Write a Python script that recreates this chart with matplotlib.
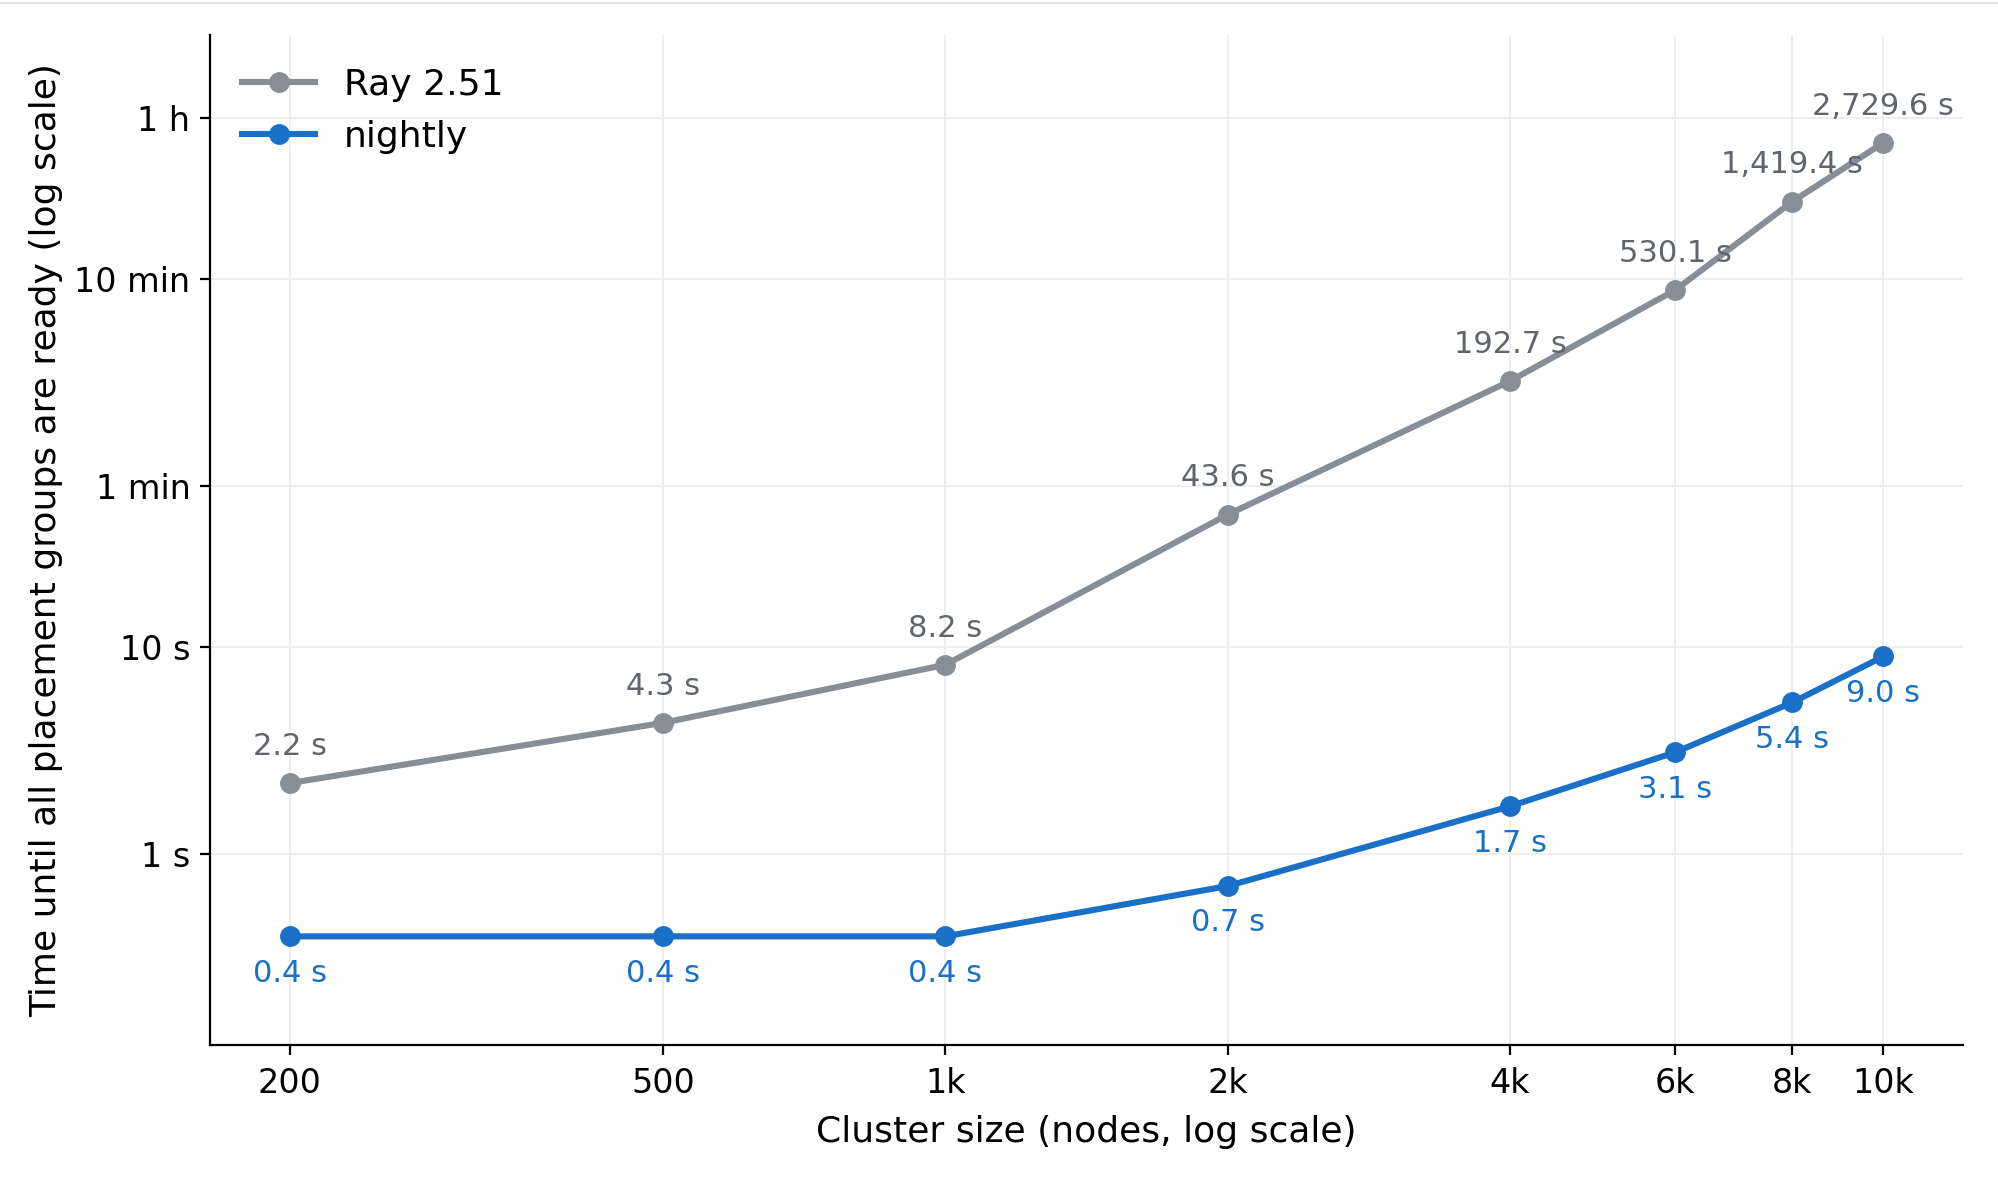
import matplotlib.pyplot as plt
from matplotlib.lines import Line2D
from matplotlib.ticker import FixedLocator, FixedFormatter, NullLocator

nodes = [200, 500, 1000, 2000, 4000, 6000, 8000, 10000]
ray_251 = [2.2, 4.3, 8.2, 43.6, 192.7, 530.1, 1419.4, 2729.6]
nightly = [0.4, 0.4, 0.4, 0.7, 1.7, 3.1, 5.4, 9.0]

x_ticks = [200, 500, 1000, 2000, 4000, 6000, 8000, 10000]
x_tick_labels = ["200", "500", "1k", "2k", "4k", "6k", "8k", "10k"]
y_ticks = [1, 10, 60, 600, 3600]
y_tick_labels = ["1 s", "10 s", "1 min", "10 min", "1 h"]

GRAY = "#878e95"
GRAY_TXT = "#5f656b"
BLUE = "#1a6fc6"


def plot_results():
    fig = plt.figure(figsize=(9.995, 5.915), dpi=200)
    ax = fig.add_axes([0.105, 0.117, 0.877, 0.853])

    ax.plot(nodes, ray_251, marker='o', color=GRAY, lw=2.2, ms=6.5, label='Ray 2.51')
    ax.plot(nodes, nightly, marker='o', color=BLUE, lw=2.2, ms=6.5, label='nightly')

    for x, v in zip(nodes, ray_251):
        ax.annotate(f"{v:,.1f} s", (x, v), xytext=(0, 8), textcoords='offset points',
                    ha='center', va='bottom', fontsize=11, color=GRAY_TXT)
    for x, v in zip(nodes, nightly):
        ax.annotate(f"{v:,.1f} s", (x, v), xytext=(0, -8), textcoords='offset points',
                    ha='center', va='top', fontsize=11, color=BLUE)

    ax.set_xscale('log')
    ax.set_yscale('log')
    ax.xaxis.set_major_locator(FixedLocator(x_ticks))
    ax.xaxis.set_major_formatter(FixedFormatter(x_tick_labels))
    ax.xaxis.set_minor_locator(NullLocator())
    ax.yaxis.set_major_locator(FixedLocator(y_ticks))
    ax.yaxis.set_major_formatter(FixedFormatter(y_tick_labels))
    ax.yaxis.set_minor_locator(NullLocator())
    ax.set_ylim(0.12, 9000)
    ax.tick_params(labelsize=12)
    ax.tick_params(axis='x', pad=4.5)

    ax.set_xlabel('Cluster size (nodes, log scale)', fontsize=13, labelpad=5.5)
    ax.set_ylabel('Time until all placement groups are ready (log scale)', fontsize=13)
    ax.grid(True, color='#ebebeb', lw=0.6)
    ax.set_axisbelow(True)
    for s in ['top', 'right']:
        ax.spines[s].set_visible(False)
    ax.legend(loc='upper left', frameon=False, fontsize=13)

    # thin border line along the top edge
    fig.add_artist(Line2D([0, 1], [0.9975, 0.9975], transform=fig.transFigure,
                          color='#e2e2e2', lw=0.8))

    fig.savefig("out.png", dpi=200)


if __name__ == "__main__":
    plot_results()
